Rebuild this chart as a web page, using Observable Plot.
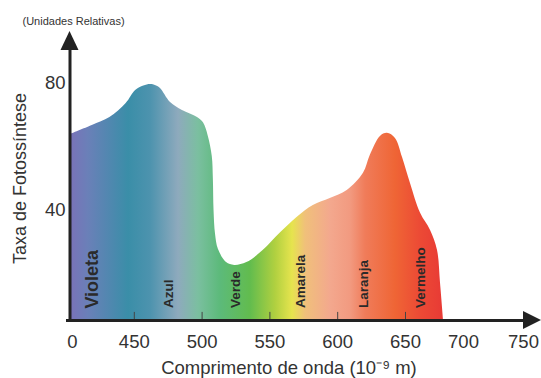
<!DOCTYPE html>
<html>
<head>
<meta charset="utf-8">
<script src="https://cdn.jsdelivr.net/npm/d3@7"></script>
<script src="https://cdn.jsdelivr.net/npm/@observablehq/plot@0.6"></script>
<style>
  html, body { margin: 0; padding: 0; background: #fff; }
</style>
</head>
<body>
<div id="chart"></div>
<script>
// Photosynthesis rate (relative units) vs wavelength (nm)
const wavelength = [403, 419, 432, 444, 451, 457, 462, 466, 469.3, 476.7, 485.5, 496.6, 501, 504.5, 507.5, 508.3, 508.8, 509.9, 512, 518, 524, 533, 545, 557.5, 570, 582, 594.5, 607, 619, 624, 631.5, 636.7, 642.6, 647.8, 654.3, 663, 671.6, 677.6, 680.2, 682.8];
const rate =       [64,  66.8, 69.3, 73.7, 77.8, 79.2, 79.7, 79.3, 78.4,  74,    71.5,  69.3,  67.6, 63.5,  57,    50,    40,    32.5,  27.8, 23.6, 22.7, 23.6, 27.4, 32.8,  37.8, 41.6, 43.8,  46.3, 51.7, 57.3, 63.3,  64.3,  62.7,  56.7,  48.5,  39.1, 33.7,  27.4,  17,    5.35];

const bandNames = ["Violeta", "Azul", "Verde", "Amarela", "Laranja", "Vermelho"];
const bandPos = [419, 475, 525, 573, 619, 663];

const xTickValues = [400, 450, 500, 550, 600, 650, 700, 750];
const xTickLabels = ["0", "450", "500", "550", "600", "650", "700", "750"];
const xTickMarks = [450, 500, 550, 600, 650];
const yTickValues = [40, 80];

const BASE = 5.35;   // value at the x axis line
const YTOP = 96.4;   // top of the y axis arrow
const XEND = 765;    // tip of the x axis arrow

const curve = wavelength.map((w, i) => ({nm: w, v: rate[i]}));
const bands = bandNames.map((n, i) => ({name: n, nm: bandPos[i]}));
const xticks = xTickValues.map((v, i) => ({v, label: xTickLabels[i]}));

const stops = [
  [403, "#7a72b8"], [416.2, "#6a80b8"], [445.7, "#3a8ea8"], [462, "#4d93ae"],
  [482.6, "#8eaabd"], [497.3, "#7bbfa0"], [513.6, "#5cba7a"], [535.7, "#62bc4e"],
  [554.1, "#b0d040"], [566.7, "#e6e44e"], [576.3, "#f0c07a"], [594.7, "#f3a88e"],
  [609.5, "#f29a80"], [620.5, "#f07c5a"], [642.6, "#ef6535"], [662.9, "#ec4a35"],
  [682.8, "#e83a35"]
];

const gradientMark = (index, scales) => {
  const g = d3.create("svg:g");
  const x1 = scales.x(403), x2 = scales.x(682.8);
  const lg = g.append("defs").append("linearGradient")
    .attr("id", "spectrum")
    .attr("gradientUnits", "userSpaceOnUse")
    .attr("x1", x1).attr("x2", x2).attr("y1", 0).attr("y2", 0);
  for (const [w, c] of stops) {
    lg.append("stop").attr("offset", (scales.x(w) - x1) / (x2 - x1)).attr("stop-color", c);
  }
  return g.node();
};

const arrowMark = (index, scales) => {
  const g = d3.create("svg:g").attr("fill", "#222");
  const ax = scales.x(400) + 3.5;
  const ty = scales.y(YTOP);
  g.append("path").attr("d", `M${ax},${ty}L${ax - 9},${ty + 19}L${ax + 9},${ty + 19}Z`);
  const tx = scales.x(XEND);
  const by = scales.y(BASE);
  g.append("path").attr("d", `M${tx},${by}L${tx - 18},${by - 9}L${tx - 18},${by + 9}Z`);
  return g.node();
};

const font = "'Liberation Sans', Arial, sans-serif";

const chart = Plot.plot({
  width: 541,
  height: 378,
  margin: 0,
  style: {fontFamily: font, background: "#fff", color: "#222", overflow: "visible"},
  x: {type: "linear", domain: [400, 650, 700, 750, 765], range: [66, 405, 463, 523, 541], axis: null},
  y: {domain: [0, 80], range: [337, 83], axis: null},
  marks: [
    gradientMark,
    Plot.area(curve, {x1: "nm", y1: BASE, y2: "v", fill: "url(#spectrum)", curve: "catmull-rom"}),
    Plot.ruleX(xTickMarks, {y1: BASE, y2: 7.9, stroke: "#444", strokeWidth: 1}),
    Plot.text(bands.slice(0, 1), {x: "nm", y: 9.1, text: "name", rotate: -90, textAnchor: "start", lineAnchor: "middle", fontSize: 18, fontWeight: "bold", fill: "#2a2a2a"}),
    Plot.text(bands.slice(1), {x: "nm", y: 9.3, text: "name", rotate: -90, textAnchor: "start", lineAnchor: "middle", fontSize: 13.5, fontWeight: "bold", fill: "#2a2a2a"}),
    Plot.ruleX([400], {y1: BASE, y2: YTOP - 4, stroke: "#222", strokeWidth: 3, dx: 3.5}),
    Plot.ruleY([BASE], {x1: 400, x2: XEND - 6, stroke: "#222", strokeWidth: 3}),
    arrowMark,
    Plot.text(xticks.slice(0, 1), {x: "v", y: -1.5, text: "label", dx: 6, fontSize: 18.5, fill: "#333", lineAnchor: "middle"}),
    Plot.text(xticks.slice(1), {x: "v", y: -1.5, text: "label", fontSize: 18.5, fill: "#333", lineAnchor: "middle"}),
    Plot.text(yTickValues, {x: 400, y: d => d, text: d => String(d), textAnchor: "end", dx: -1, fontSize: 18.5, fill: "#333", lineAnchor: "middle"}),
    Plot.text(["Taxa de Fotossíntese"], {frameAnchor: "left", dx: 20, dy: -11, rotate: -90, text: d => d, textAnchor: "middle", fontSize: 18, fill: "#333", lineAnchor: "middle"}),
    Plot.text(["(Unidades Relativas)"], {frameAnchor: "top-left", dx: 22, dy: 21, text: d => d, textAnchor: "start", lineAnchor: "middle", fontSize: 11, fill: "#333"}),
    Plot.text(["Comprimento de onda (10⁻⁹ m)"], {frameAnchor: "bottom", dx: 18, dy: -10, text: d => d, textAnchor: "middle", fontSize: 18.5, fill: "#333", lineAnchor: "middle"})
  ]
});

document.getElementById("chart").appendChild(chart);
</script>
</body>
</html>
